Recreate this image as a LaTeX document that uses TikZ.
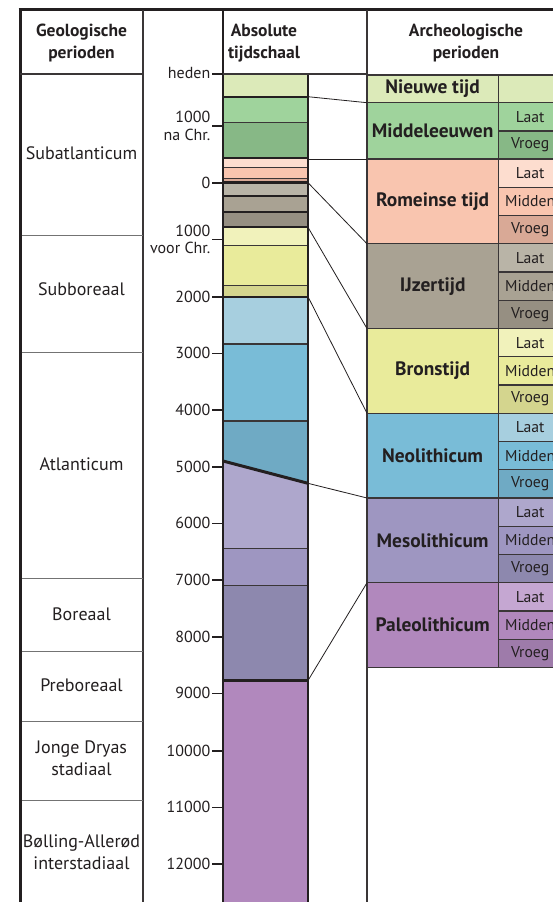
\documentclass[tikz,border=0pt]{standalone}
\usepackage{fontspec}
\setmainfont{PT Sans}
\definecolor{ink}{HTML}{231F20}
\definecolor{lineg}{HTML}{3A3637}
\definecolor{nt}{HTML}{DCEAB9}
\definecolor{mlaat}{HTML}{9FD39C}
\definecolor{mvroeg}{HTML}{87B886}
\definecolor{rlaat}{HTML}{FDDDCF}
\definecolor{rmid}{HTML}{F9C5AF}
\definecolor{rvroeg}{HTML}{D9A996}
\definecolor{ilaat}{HTML}{B9B4A7}
\definecolor{imid}{HTML}{A9A293}
\definecolor{ivroeg}{HTML}{968F82}
\definecolor{blaat}{HTML}{F1F2BB}
\definecolor{bmid}{HTML}{E9EB9B}
\definecolor{bvroeg}{HTML}{D4D58E}
\definecolor{nlaat}{HTML}{A7CFDF}
\definecolor{nmid}{HTML}{79BCD7}
\definecolor{nvroeg}{HTML}{6FAAC4}
\definecolor{melaat}{HTML}{AEA7CC}
\definecolor{memid}{HTML}{9E96C1}
\definecolor{mevroeg}{HTML}{8D88AE}
\definecolor{plaat}{HTML}{C5A7D2}
\definecolor{pmid}{HTML}{B188BD}
\definecolor{pvroeg}{HTML}{9E7BAA}
\begin{document}
\begin{tikzpicture}[x=1pt,y=-1pt,
  geo/.style={text=ink, font=\fontsize{18}{22.5}\selectfont, align=center, inner sep=0},
  hdr/.style={text=ink, font=\bfseries\fontsize{17.5}{21.5}\selectfont, align=center, inner sep=0},
  tl/.style={text=ink, font=\fontsize{16}{17.5}\selectfont, align=right, inner sep=0, anchor=east},
  arch/.style={draw=lineg, line width=1.3pt, inner sep=0, outer sep=0, anchor=north west,
     minimum width=131.3pt, font=\bfseries\fontsize{19.4}{20}\selectfont, text=ink},
  sub/.style={draw=lineg, line width=1.3pt, inner sep=0, outer sep=0, anchor=north west,
     minimum width=63.7pt, minimum height=28.25pt, font=\fontsize{15.7}{17}\selectfont, text=ink},
  tick/.style={line width=1.6pt, draw=ink},
  conn/.style={line width=0.8pt, draw=ink},
  frame/.style={line width=1.2pt, draw=lineg},
  sep/.style={line width=0.9pt, draw=black!55},
  barsep/.style={line width=0.9pt, draw=lineg},
  barmaj/.style={line width=1.8pt, draw=ink}
]
\path[use as bounding box] (0,0) rectangle (553,902);
\clip (0,0) rectangle (553,902);
\fill[white] (0,0) rectangle (553,902);

% ---------- time bar fills ----------
\fill[nt]      (223,74)    rectangle (308,96.7);
\fill[mlaat]   (223,96.7)  rectangle (308,122.7);
\fill[mvroeg]  (223,122.7) rectangle (308,158);
\fill[rlaat]   (223,158)   rectangle (308,167.3);
\fill[rmid]    (223,167.3) rectangle (308,178.3);
\fill[rvroeg]  (223,178.3) rectangle (308,182.7);
\fill[ilaat]   (223,182.7) rectangle (308,196);
\fill[imid]    (223,196)   rectangle (308,211.7);
\fill[ivroeg]  (223,211.7) rectangle (308,227.3);
\fill[blaat]   (223,227.3) rectangle (308,245);
\fill[bmid]    (223,245)   rectangle (308,285);
\fill[bvroeg]  (223,285)   rectangle (308,296.7);
\fill[nlaat]   (223,296.7) rectangle (308,344);
\fill[nmid]    (223,344)   rectangle (308,421);
\fill[nvroeg]  (223,421) -- (308,421) -- (308,483.3) -- (223,461) -- cycle;
\fill[melaat]  (223,461) -- (308,483.3) -- (308,548.3) -- (223,548.3) -- cycle;
\fill[memid]   (223,548.3) rectangle (308,585);
\fill[mevroeg] (223,585)   rectangle (308,680.5);
\fill[pmid]    (223,680.5) rectangle (308,902);

% bar separators
\draw[barsep] (223,122.7) -- (308,122.7);
\draw[barsep] (223,167.3) -- (308,167.3);
\draw[barsep] (223,178.3) -- (308,178.3);
\draw[barmaj] (223,196) -- (308,196);
\draw[barmaj] (223,211.7) -- (308,211.7);
\draw[barsep] (223,245) -- (308,245);
\draw[barsep] (223,285) -- (308,285);
\draw[barsep, line width=1.3pt] (223,344) -- (308,344);
\draw[barsep, line width=1.3pt] (223,421) -- (308,421);
\draw[barsep] (223,548.3) -- (308,548.3);
\draw[barsep] (223,585) -- (308,585);
\draw[barmaj] (223,96.7) -- (308,96.7);
\draw[barmaj] (223,158) -- (308,158);
\draw[barmaj, line width=2.6pt] (223,182.7) -- (308,182.7);
\draw[barmaj] (223,227.3) -- (308,227.3);
\draw[barmaj] (223,296.7) -- (308,296.7);
\draw[barmaj, line width=3pt] (223,461) -- (308,483.3);
\draw[barmaj, line width=3.2pt] (223,680.5) -- (308,680.5);

% ---------- frame ----------
\draw[line width=3pt, draw=ink] (18.5,9.7) -- (553,9.7);
\draw[line width=3pt, draw=ink] (20,8.2) -- (20,902);
\draw[frame] (143,9.7) -- (143,902);
\draw[frame] (367,9.7) -- (367,902);
\draw[line width=2pt, draw=ink] (223,9.7) -- (223,902);
\draw[line width=2pt, draw=ink] (308,74) -- (308,902);
\draw[frame] (20,74) -- (143,74);
\draw[frame] (223,74) -- (367,74);

% left column separators
\foreach \yy in {235,352.3,578.3,651.7,721.7,800}
  \draw[sep] (21.5,\yy) -- (143,\yy);

% ---------- headers ----------
\node[hdr] (hgeo) at (81.5,43) {Geologische\\perioden};
\node[hdr] (habs) at (264,43) {Absolute\\tijdschaal};
\node[hdr] (harc) at (466,43) {Archeologische\\perioden};

% ---------- geological periods ----------
\node[geo] (sa) at (81.5,153) {Subatlanticum};
\node[geo] (sb) at (81.5,289) {Subboreaal};
\node[geo] (at) at (81.5,464) {Atlanticum};
\node[geo] (bo) at (81.5,614) {Boreaal};
\node[geo] (pb) at (81.5,685) {Preboreaal};
\node[geo] (jd) at (81.5,758) {Jonge Dryas\\stadiaal};
\node[geo] (ba) at (81.5,852) {Bølling-Allerød\\interstadiaal};

% ---------- ticks ----------
\foreach \yy in {74,125.7,182.7,239.3,296.7,353.3,410,466.7,523.3,580,636.7,693.3,750.7,807.3,864}
  \draw[tick] (212,\yy) -- (223,\yy);
\node[tl] (t0) at (210.5,72.5) {heden};
\node[tl] (t1) at (210.5,126) {1000\\na Chr.};
\node[tl] (t2) at (210.5,182.7) {0};
\node[tl] (t3) at (210.5,239.3) {1000\\voor Chr.};
\node[tl] (t4) at (210.5,296.7) {2000};
\node[tl] (t5) at (210.5,353.3) {3000};
\node[tl] (t6) at (210.5,410) {4000};
\node[tl] (t7) at (210.5,466.7) {5000};
\node[tl] (t8) at (210.5,523.3) {6000};
\node[tl] (t9) at (210.5,580) {7000};
\node[tl] (t10) at (210.5,636.7) {8000};
\node[tl] (t11) at (210.5,693.3) {9000};
\node[tl] (t12) at (210.5,750.7) {10000};
\node[tl] (t13) at (210.5,807.3) {11000};
\node[tl] (t14) at (210.5,864) {12000};

% ---------- archaeological periods ----------
\node[arch, fill=nt, minimum height=27.7pt] (nieuw) at (367,75) {Nieuwe tijd};
\node[sub, fill=nt, minimum height=27.7pt] (nieuw1) at (498.3,75) {};
\node[arch, fill=mlaat, minimum height=56.3pt] (mid) at (367,102.7) {Middeleeuwen};
\node[sub, fill=mlaat, minimum height=28.15pt] (mid1) at (498.3,102.7) {Laat};
\node[sub, fill=mvroeg, minimum height=28.15pt] (mid2) at (498.3,130.85) {Vroeg};

\foreach \tp/\nm/\lab/\cm/\ca/\cb/\cc in {
   159/rom/Romeinse tijd/rmid/rlaat/rmid/rvroeg,
   243.75/ijz/IJzertijd/imid/ilaat/imid/ivroeg,
   328.5/bro/Bronstijd/bmid/blaat/bmid/bvroeg,
   413.25/neo/Neolithicum/nmid/nlaat/nmid/nvroeg,
   498/mes/Mesolithicum/memid/melaat/memid/mevroeg,
   582.75/pal/Paleolithicum/pmid/plaat/pmid/pvroeg}
{
  \node[arch, fill=\cm, minimum height=84.75pt] (\nm) at (367,\tp) {\lab};
  \node[sub, fill=\ca] (\nm1) at (498.3,\tp) {Laat};
  \node[sub, fill=\cb] (\nm2) at (498.3,\tp+28.25) {Midden};
  \node[sub, fill=\cc] (\nm3) at (498.3,\tp+56.5) {Vroeg};
}

% ---------- connectors ----------
\coordinate (bA) at (308,96.7);
\coordinate (bB) at (308,159);
\coordinate (bC) at (308,182.7);
\coordinate (bD) at (308,227.3);
\coordinate (bE) at (308,296.7);
\coordinate (bF) at (308,483.3);
\coordinate (bG) at (308,680.5);
\draw[conn] (bA) -- (mid.north west);
\draw[conn] (bB) -- (rom.north west);
\draw[conn] (bC) -- (rom.south west);
\draw[conn] (bD) -- (ijz.south west);
\draw[conn] (bE) -- (bro.south west);
\draw[conn] (bF) -- (neo.south west);
\draw[conn] (bG) -- (mes.south west);
\end{tikzpicture}
\end{document}
